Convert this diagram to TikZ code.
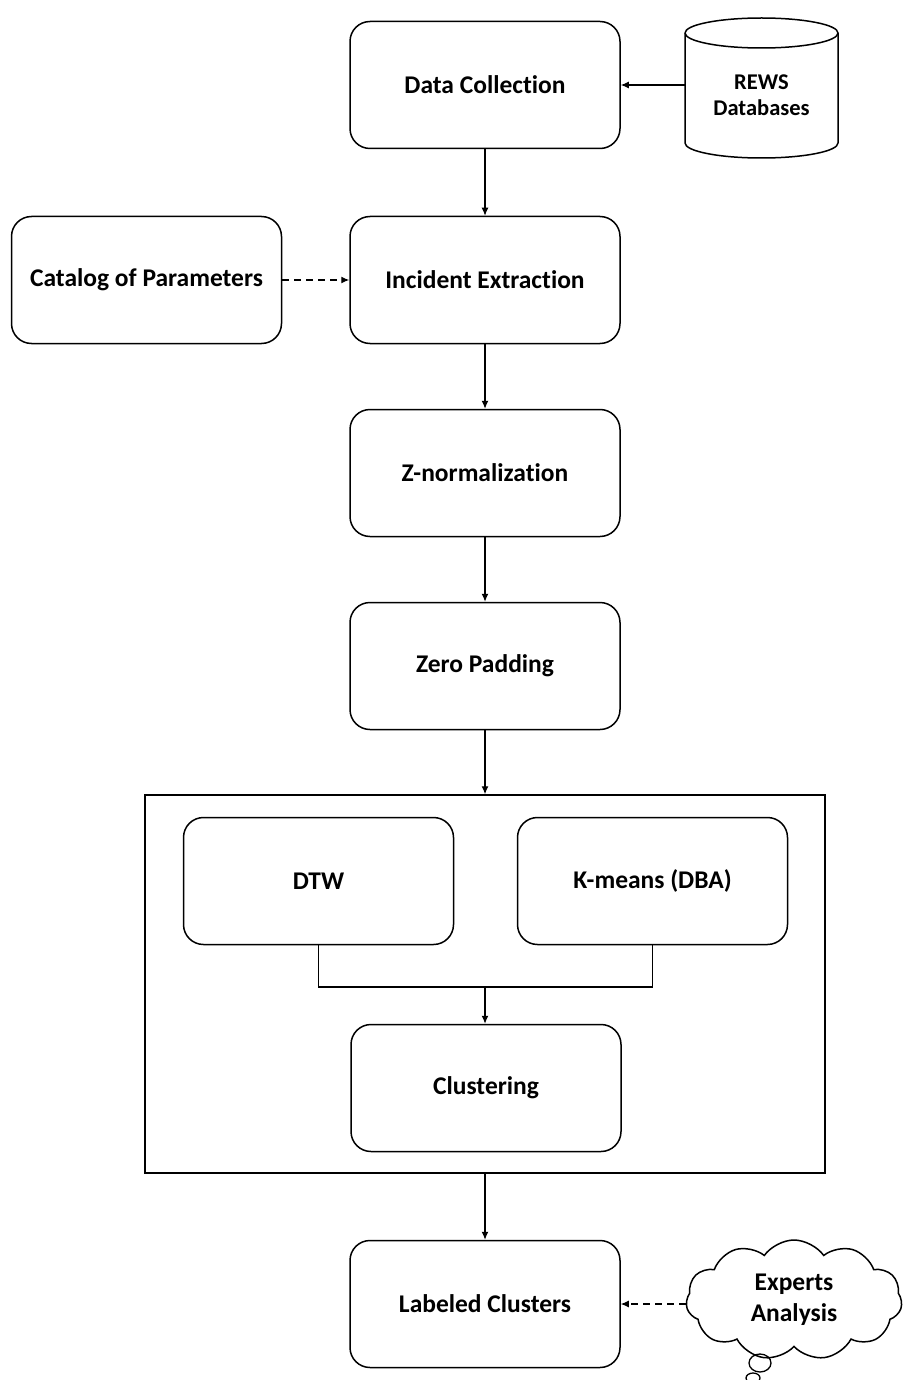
\documentclass[tikz,border=0pt]{standalone}
\usepackage{fontspec}
\setmainfont{Carlito}[Ligatures=NoCommon]
\usetikzlibrary{arrows.meta,shapes.symbols}
\begin{document}
\begin{tikzpicture}[x=1pt,y=-1pt,
  every node/.style={font=\bfseries\fontsize{25.5}{30}\selectfont},
  proc/.style={draw, line width=1.5pt, rounded corners=20pt, minimum width=270pt, minimum height=127pt, align=center},
  arr/.style={line width=1.2pt, -{Latex[length=8pt,width=7pt]}},
  darr/.style={arr, dash pattern=on 7pt off 5pt},
  plain/.style={line width=1.2pt}]
\useasboundingbox (0,0) rectangle (907,1380);
\node[proc] (dc) at (485,85) {Data Collection};
\node[proc] (ie) at (485,280) {Incident Extraction};
\node[proc] (cat) at (146.5,280) {Catalog of Parameters};
\node[proc] (zn) at (485,473) {Z-normalization};
\node[proc] (zp) at (485,666) {Zero Padding};
\node[draw, line width=1.5pt, minimum width=680pt, minimum height=378pt] (grp) at (485,984) {};
\node[proc] (dtw) at (318.5,881) {DTW};
\node[proc] (km) at (652.5,881) {K-means (DBA)};
\node[proc] (cl) at (486,1088) {Clustering};
\node[proc] (lc) at (485,1304) {Labeled Clusters};
% cylinder
\node[minimum width=153pt, minimum height=138pt, inner sep=0pt, align=center, font=\bfseries\fontsize{22.5}{26}\selectfont] (db) at (761.5,95) {REWS\\Databases};
\draw[line width=1.5pt] (685,33) arc[start angle=180, end angle=-180, x radius=76.5pt, y radius=15pt];
\draw[line width=1.5pt] (685,33) -- (685,143) arc[start angle=180, end angle=360, x radius=76.5pt, y radius=15pt] -- (838,33);
\coordinate (dbw) at (685,85);
% cloud
\node[cloud, cloud puffs=11, cloud puff arc=110, aspect=1.8, draw, line width=1.5pt, minimum width=216pt, minimum height=120pt, align=center, inner sep=0pt, font=\bfseries\fontsize{25.5}{31}\selectfont] (ea) at (794,1300) {Experts\\Analysis};
\draw[line width=1.3pt] (760,1363) ellipse[x radius=11pt, y radius=9pt];
\draw[line width=1.3pt] (753,1378) ellipse[x radius=7pt, y radius=5pt];
% connectors
\draw[arr] (dbw) -- (dc.east);
\draw[arr] (dc) -- (ie);
\draw[darr] (cat) -- (ie);
\draw[arr] (ie) -- (zn);
\draw[arr] (zn) -- (zp);
\draw[arr] (zp.south) -- (grp.north);
\coordinate (mj) at (485,987);
\draw[plain] (dtw.south) -- (dtw.south |- mj) -- (km.south |- mj) -- (km.south);
\draw[arr] (mj) -- (mj |- cl.north);
\draw[arr] (grp.south) -- (lc.north);
\draw[darr] (ea.west |- lc.east) -- (lc.east);
\end{tikzpicture}
\end{document}
